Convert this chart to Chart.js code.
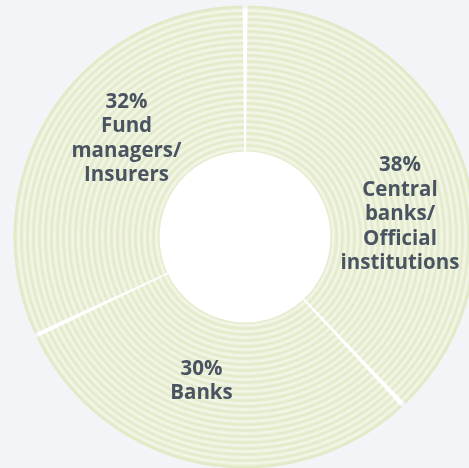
<!DOCTYPE html>
<html>
<head>
<meta charset="utf-8">
<script src="https://cdn.jsdelivr.net/npm/chart.js@4.4.1/dist/chart.umd.min.js"></script>
<style>
  html, body { margin: 0; padding: 0; background: #f3f4f7; overflow: hidden; }
  #wrap { position: relative; width: 469px; height: 468px; overflow: hidden; }
  #wrap canvas { position: absolute; left: 0; top: 0; }
</style>
</head>
<body>
<div id="wrap"><canvas id="chart" width="500" height="490"></canvas></div>
<script>
// Holder breakdown (share of total, %)
const categories = ['Central banks/Official institutions', 'Banks', 'Fund managers/Insurers'];
const shares = [38, 30, 32];
// Text lines shown under each percentage
const nameLines = [
  ['Central', 'banks/', 'Official', 'institutions'],
  ['Banks'],
  ['Fund', 'managers/', 'Insurers']
];

const GAP = 3;            // white separator width between slices
const RING_STEP = 3;      // half-period of the concentric ring texture
const RING_A = '#e1e9c7';
const RING_B = '#f4f7ea';
const TEXT_COLOR = '#4a5461';

let ringCache = null;
function ringFill(ctx) {
  const chart = ctx.chart;
  const area = chart.chartArea;
  if (!area) return RING_A;
  const cx = (area.left + area.right) / 2;
  const cy = (area.top + area.bottom) / 2;
  const R = (Math.min(area.width, area.height) - GAP) / 2;
  const key = cx + ',' + cy + ',' + R;
  if (ringCache && ringCache.key === key) return ringCache.grad;
  const g = chart.ctx.createRadialGradient(cx, cy, 0, cx, cy, R);
  // soft-edged stripes: each colour peaks in the middle of its band
  let r = RING_STEP / 2, i = 0;
  g.addColorStop(0, RING_A);
  while (r < R) {
    const c = i % 2 === 0 ? RING_A : RING_B;
    g.addColorStop(r / R, c);
    r += RING_STEP;
    i++;
  }
  g.addColorStop(1, i % 2 === 0 ? RING_B : RING_A);
  ringCache = { key, grad: g };
  return g;
}

// White disc behind the ring: fills the hole and shows through the slice gaps
const discPlugin = {
  id: 'disc',
  beforeDatasetsDraw(chart) {
    const arc = chart.getDatasetMeta(0).data[0];
    if (!arc) return;
    const c = chart.ctx;
    c.save();
    c.beginPath();
    c.arc(arc.x, arc.y, arc.outerRadius - 1.5, 0, Math.PI * 2);
    c.fillStyle = '#ffffff';
    c.fill();
    c.restore();
  }
};

// Slice captions, placed relative to the ring centre
const captionOffsets = [[155, -22.5], [-43.5, 144], [-118.5, -98.5]];
const captionPlugin = {
  id: 'captions',
  afterDatasetsDraw(chart) {
    const arc = chart.getDatasetMeta(0).data[0];
    if (!arc) return;
    const c = chart.ctx;
    const lh = 24.5;
    c.save();
    c.font = 'bold 20.5px "Open Sans", sans-serif';
    c.fillStyle = TEXT_COLOR;
    c.textAlign = 'center';
    c.textBaseline = 'middle';
    shares.forEach((v, i) => {
      const lines = [v + '%'].concat(nameLines[i]);
      const [dx, dy] = captionOffsets[i];
      const top = arc.y + dy - (lines.length - 1) * lh / 2;
      lines.forEach((t, k) => c.fillText(t, arc.x + dx, top + k * lh));
    });
    c.restore();
  }
};

new Chart(document.getElementById('chart'), {
  type: 'doughnut',
  data: {
    labels: categories,
    datasets: [{
      data: shares,
      backgroundColor: ringFill,
      borderWidth: 0,
      spacing: GAP,
      hoverOffset: 0
    }]
  },
  options: {
    responsive: false,
    animation: false,
    cutout: '36.5%',
    layout: { padding: { left: 13.5, top: 5.5, right: 23.5, bottom: 21.5 } },
    plugins: { legend: { display: false }, tooltip: { enabled: false } }
  },
  plugins: [discPlugin, captionPlugin]
});
</script>
</body>
</html>
